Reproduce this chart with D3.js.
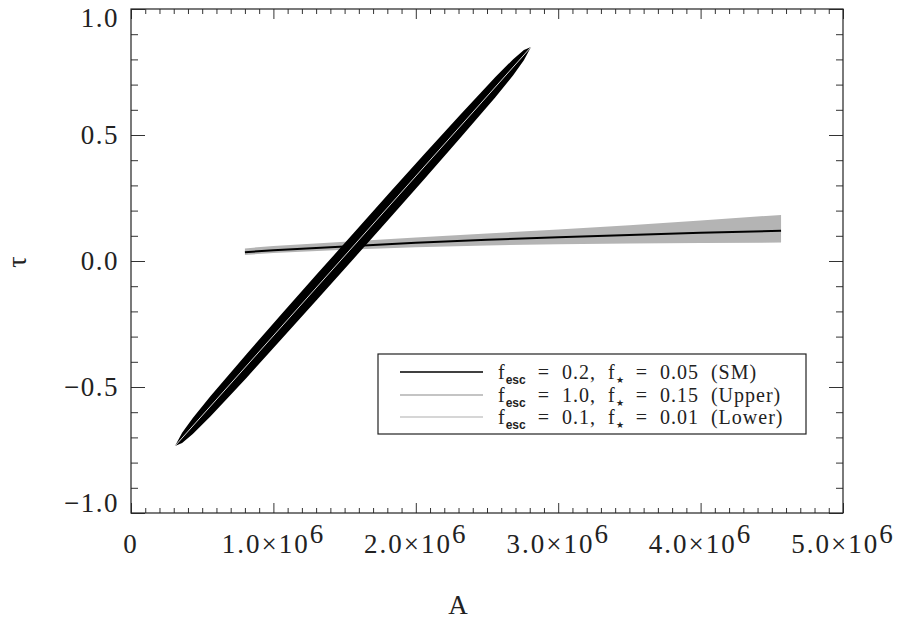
<!DOCTYPE html>
<meta charset="utf-8">
<title>tau vs A</title>
<style>
body { margin: 0; background: #fff; }
svg text { font-family: "Liberation Serif", serif; fill: #222; white-space: pre; }
</style>
<script src="https://d3js.org/d3.v7.min.js"></script>
<div id="chart"></div>
<script>

// tick values and labels
var xTicks = [0, 1e6, 2e6, 3e6, 4e6, 5e6];
var xTickMant = ["0", "1.0×10", "2.0×10", "3.0×10", "4.0×10", "5.0×10"];
var xTickExp = ["", "6", "6", "6", "6", "6"];
var yTicks = [-1, -0.5, 0, 0.5, 1];
var yTickText = ["−1.0", "−0.5", "0.0", "0.5", "1.0"];

// black region (SM): A and lower / upper tau
var smA     = [0.309e6, 0.359e6, 0.434e6, 0.559e6, 0.809e6, 1.059e6, 1.309e6, 1.559e6, 1.809e6, 2.059e6, 2.309e6, 2.559e6, 2.684e6, 2.759e6, 2.809e6];
var smTauLo = [-0.734, -0.722, -0.687, -0.616, -0.465, -0.309, -0.152, 0.006, 0.165, 0.324, 0.486, 0.650, 0.737, 0.797, 0.849];
var smTauHi = [-0.734, -0.682, -0.623, -0.536, -0.371, -0.209, -0.050, 0.108, 0.267, 0.424, 0.578, 0.730, 0.801, 0.837, 0.849];
// thin light line inside it
var smLineA   = [0.309e6, 2.809e6];
var smLineTau = [-0.734, 0.849];

// grey band with its black line
var bandA     = [0.80e6, 1.0e6, 1.5e6, 2.0e6, 2.5e6, 3.0e6, 3.5e6, 4.0e6, 4.565e6];
var bandTauLo = [0.024, 0.032, 0.045, 0.055, 0.062, 0.066, 0.069, 0.071, 0.073];
var bandTauHi = [0.050, 0.060, 0.076, 0.093, 0.109, 0.125, 0.142, 0.161, 0.183];
var bandTau   = [0.035, 0.043, 0.058, 0.072, 0.084, 0.094, 0.103, 0.112, 0.120];

// legend
var legEsc  = ["0.2", "1.0", "0.1"];
var legStar = ["0.05", "0.15", "0.01"];
var legName = ["SM", "Upper", "Lower"];
var legColor = ["#000", "#b0b0b0", "#c8c8c8"];

var W = 906, H = 629;
var pL = 131, pR = 843, pT = 9, pB = 513;

var svg = d3.select("#chart").append("svg")
  .attr("width", W).attr("height", H);

var x = d3.scaleLinear().domain([0, 5e6]).range([pL, pR]);
var y = d3.scaleLinear().domain([-1, 1]).range([pB, pT]);

var xMinor = d3.range(0, 50).map(function(i) { return i * 1e5; }).filter(function(v) { return v % 1e6 != 0; });
var yMinor = d3.range(-10, 11).map(function(i) { return i / 10; }).filter(function(v) { return Math.abs(v * 2 - Math.round(v * 2)) > 1e-6; });

// grey band
svg.append("path")
  .datum(bandA.map(function(a, i) { return [a, bandTauLo[i], bandTauHi[i]]; }))
  .attr("d", d3.area()
    .x(function(d) { return x(d[0]); })
    .y0(function(d) { return y(d[1]); })
    .y1(function(d) { return y(d[2]); }))
  .attr("fill", "#b4b4b4");

svg.append("path")
  .datum(bandA.map(function(a, i) { return [a, bandTau[i]]; }))
  .attr("d", d3.line().x(function(d) { return x(d[0]); }).y(function(d) { return y(d[1]); }))
  .attr("fill", "none").attr("stroke", "#000").attr("stroke-width", 2);

// black SM region
svg.append("path")
  .datum(smA.map(function(a, i) { return [a, smTauLo[i], smTauHi[i]]; }))
  .attr("d", d3.area()
    .x(function(d) { return x(d[0]); })
    .y0(function(d) { return y(d[1]); })
    .y1(function(d) { return y(d[2]); }))
  .attr("fill", "#000");

svg.append("path")
  .datum(smLineA.map(function(a, i) { return [a, smLineTau[i]]; }))
  .attr("d", d3.line().x(function(d) { return x(d[0]); }).y(function(d) { return y(d[1]); }))
  .attr("fill", "none").attr("stroke", "#d8d8d8").attr("stroke-width", 1);

// axes: ticks point inward on all four sides
function ticks(axis, tx, ty) {
  var g = svg.append("g").attr("transform", "translate(" + tx + "," + ty + ")").call(axis);
  g.select(".domain").remove();
  g.selectAll("line").attr("stroke", "#333");
  g.selectAll("text").remove();
}
ticks(d3.axisTop(x).tickValues(xTicks).tickSize(10), 0, pB);
ticks(d3.axisTop(x).tickValues(xMinor).tickSize(5), 0, pB);
ticks(d3.axisBottom(x).tickValues(xTicks).tickSize(10), 0, pT);
ticks(d3.axisBottom(x).tickValues(xMinor).tickSize(5), 0, pT);
ticks(d3.axisRight(y).tickValues(yTicks).tickSize(14), pL, 0);
ticks(d3.axisRight(y).tickValues(yMinor).tickSize(7), pL, 0);
ticks(d3.axisLeft(y).tickValues(yTicks).tickSize(14), pR, 0);
ticks(d3.axisLeft(y).tickValues(yMinor).tickSize(7), pR, 0);

svg.append("rect")
  .attr("x", pL).attr("y", pT)
  .attr("width", pR - pL).attr("height", pB - pT)
  .attr("fill", "none").attr("stroke", "#222").attr("stroke-width", 1.2);

// x tick labels
var xl = svg.append("g").selectAll("text").data(xTicks).enter().append("text")
  .attr("x", function(d) { return x(d); })
  .attr("y", 553)
  .attr("text-anchor", "middle")
  .style("font-size", "27px")
  .style("letter-spacing", "2px");
xl.append("tspan").text(function(d, i) { return xTickMant[i]; });
xl.append("tspan").attr("dy", -10).text(function(d, i) { return xTickExp[i]; });

// y tick labels (end labels pulled inward like the original)
svg.append("g").selectAll("text").data(yTicks).enter().append("text")
  .attr("x", 119)
  .attr("y", function(d) { return y(d) + 9 + (d == 1 ? 9 : d == -1 ? -10 : 0); })
  .attr("text-anchor", "end")
  .style("font-size", "27px")
  .style("letter-spacing", "1.5px")
  .text(function(d, i) { return yTickText[i]; });

// axis titles
svg.append("text")
  .attr("x", 458).attr("y", 614)
  .attr("text-anchor", "middle")
  .style("font-size", "27px")
  .text("A");

svg.append("text")
  .attr("transform", "translate(26,262) rotate(-90)")
  .attr("text-anchor", "middle")
  .style("font-size", "28px")
  .text("τ");

// legend
var lg = svg.append("g");
lg.append("rect")
  .attr("x", 378).attr("y", 354).attr("width", 428).attr("height", 80)
  .attr("fill", "#fff").attr("stroke", "#222").attr("stroke-width", 1.2);

var rowY = [372, 395, 417];
legName.forEach(function(name, i) {
  lg.append("line")
    .attr("x1", 400).attr("x2", 483)
    .attr("y1", rowY[i]).attr("y2", rowY[i])
    .attr("stroke", legColor[i]).attr("stroke-width", 1.3);
  var t = lg.append("text")
    .attr("x", 498).attr("y", rowY[i] + 7)
    .style("font-size", "20px")
    .style("letter-spacing", "1px");
  t.append("tspan").text("f");
  t.append("tspan").attr("dy", 5)
    .style("font-family", "'Liberation Sans', sans-serif").style("font-weight", "bold")
    .style("font-size", "12px").style("letter-spacing", "0px").text("esc");
  t.append("tspan").attr("dy", -5).text("  =  " + legEsc[i] + ",  f");
  t.append("tspan").attr("dy", 4).style("font-size", "9px").style("letter-spacing", "0px").text("★");
  t.append("tspan").attr("dy", -4).text("  =  " + legStar[i] + "  (" + name + ")");
});

</script>
